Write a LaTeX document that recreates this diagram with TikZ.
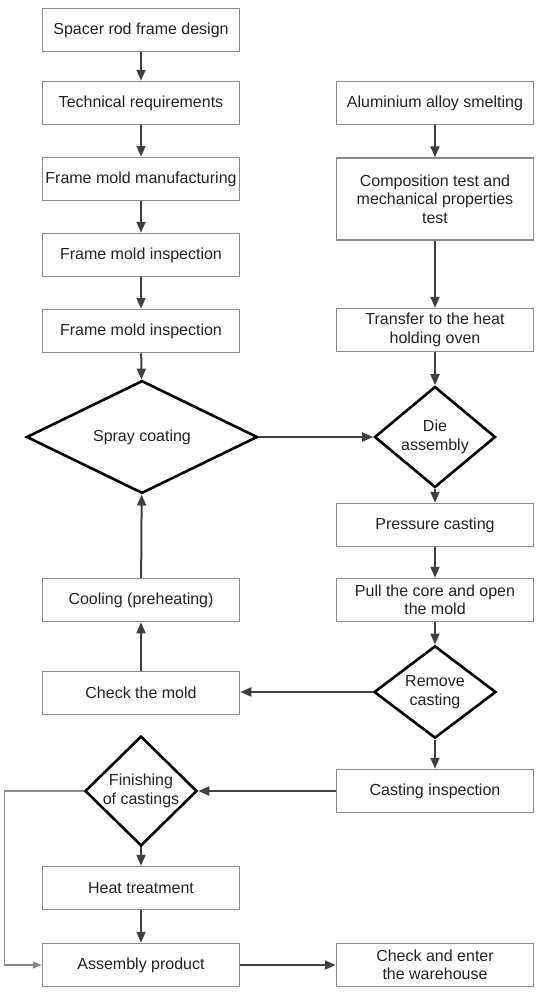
\documentclass[tikz,border=0pt]{standalone}
\usepackage{fontspec}
\setmainfont{Liberation Sans}
\usetikzlibrary{shapes.geometric,arrows.meta}
\definecolor{boxline}{HTML}{8A8A8A}
\definecolor{flowline}{HTML}{404040}
\definecolor{txt}{HTML}{222222}
\tikzset{
  box/.style={rectangle, draw=boxline, line width=1.5pt, fill=white, text=txt,
              minimum width=197pt, minimum height=43pt, inner sep=1pt,
              align=center, font=\fontsize{16}{18.5}\selectfont},
  decision/.style={diamond, draw=black, line width=2.6pt, fill=white, text=txt,
              inner sep=0pt, align=center, font=\fontsize{16}{18.5}\selectfont},
  flow/.style={draw=flowline, line width=2pt, -{Triangle[length=11pt,width=9pt]}},
  thinflow/.style={draw=boxline, line width=1.2pt, -{Triangle[length=9pt,width=7pt]}}
}
\begin{document}
\begin{tikzpicture}[x=1pt,y=-1pt]
        \useasboundingbox[fill=white] (0,0) rectangle (550,994);
        % Left column
        \node[box] (design)  at (141,30)  {Spacer rod frame design};
        \node[box] (techreq) at (141,103) {Technical requirements};
        \node[box] (moldman) at (141,179) {Frame mold manufacturing};
        \node[box] (insp1)   at (141,255) {Frame mold inspection};
        \node[box] (insp2)   at (141,331) {Frame mold inspection};
        \node[decision, minimum width=231pt, minimum height=85pt] (spray) at (142,437) {Spray coating};
        \node[box] (cooling) at (141,600) {Cooling (preheating)};
        \node[box] (checkmold) at (141,693) {Check the mold};
        \node[decision, minimum width=112pt, minimum height=85pt] (finish) at (141,791) {Finishing\\of castings};
        \node[box] (heat)    at (141,888) {Heat treatment};
        \node[box] (assembly) at (141,965) {Assembly product};
        % Right column
        \node[box] (smelt)   at (435,103) {Aluminium alloy smelting};
        \node[box, minimum height=82pt] (comptest) at (435,199) {Composition test and\\mechanical properties\\test};
        \node[box] (transfer) at (435,330) {Transfer to the heat\\holding oven};
        \node[decision, minimum width=121pt, minimum height=90pt] (die) at (435,437) {Die\\assembly};
        \node[box] (pressure) at (435,525) {Pressure casting};
        \node[box] (pullcore) at (435,600) {Pull the core and open\\the mold};
        \node[decision, minimum width=122pt, minimum height=86pt] (remove) at (435,692) {Remove\\casting};
        \node[box] (castinsp) at (435,791) {Casting inspection};
        \node[box] (warehouse) at (435,965) {Check and enter\\the warehouse};
        % Connectors
        \foreach \a/\b in {design/techreq, techreq/moldman, moldman/insp1, insp1/insp2, insp2/spray,
                           smelt/comptest, comptest/transfer, transfer/die, die/pressure,
                           pressure/pullcore, pullcore/remove, remove/castinsp,
                           finish/heat, heat/assembly}
        {   \draw[flow] (\a) -- (\b);}
        \draw[flow] (checkmold) -- (cooling);
        \draw[flow] (cooling) -- (spray);
        \draw[flow] (spray.east) -- (die.west);
        \draw[flow] (remove.west) -- (checkmold.east |- remove.west);
        \draw[flow] (castinsp.west) -- (finish.east);
        \draw[flow] (assembly.east) -- (warehouse.west);
        \draw[thinflow] (finish.west) -- ++(-79,0) |- (assembly.west);
    \end{tikzpicture}
\end{document}
